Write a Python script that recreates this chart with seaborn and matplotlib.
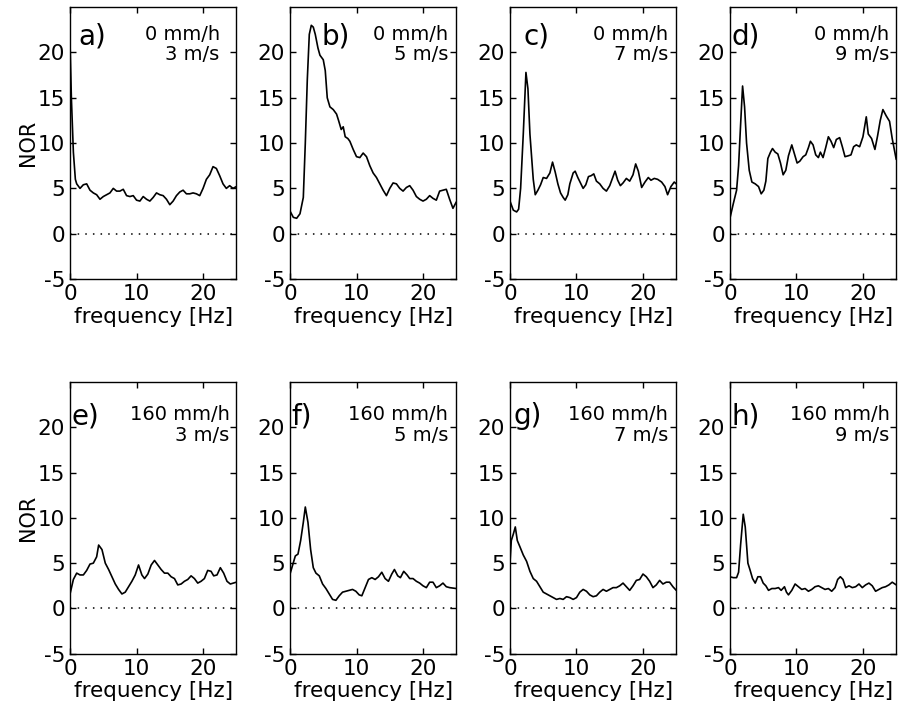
import numpy as np
import pandas as pd
import matplotlib
matplotlib.use("Agg")
import matplotlib.pyplot as plt
import seaborn as sns

# panel labels and conditions
letters = ["a)", "b)", "c)", "d)", "e)", "f)", "g)", "h)"]
rain = ["0 mm/h"] * 4 + ["160 mm/h"] * 4
wind = ["3 m/s", "5 m/s", "7 m/s", "9 m/s"] * 2

# NOR spectra (frequency [Hz], NOR)
fa = [0, 0.2, 0.5, 0.8, 1.0, 1.5, 2.0, 2.5, 3, 3.5, 4, 4.5, 5, 5.5, 6, 6.5, 7, 7.5, 8, 8.5,
      9, 9.5, 10, 10.5, 11, 11.5, 12, 12.5, 13, 13.5, 14, 14.5, 15, 15.5, 16, 16.5, 17, 17.5,
      18, 18.5, 19, 19.5, 20, 20.5, 21, 21.5, 22, 22.5, 23, 23.5, 24, 24.5, 25]
na = [21, 15, 9, 6, 5.5, 5.0, 5.4, 5.5, 4.8, 4.5, 4.3, 3.8, 4.1, 4.3, 4.5, 5.0, 4.7, 4.7, 4.9, 4.2,
      4.1, 4.2, 3.7, 3.6, 4.1, 3.8, 3.6, 4.0, 4.5, 4.3, 4.2, 3.8, 3.2, 3.6, 4.2, 4.6, 4.8, 4.4,
      4.4, 4.5, 4.4, 4.2, 5.0, 6.0, 6.5, 7.4, 7.2, 6.4, 5.5, 5.0, 5.3, 5.0, 5.2]

fb = [0, 0.5, 1, 1.5, 2, 2.3, 2.6, 2.9, 3.2, 3.5, 3.8, 4.2, 4.5, 5, 5.3, 5.6, 6, 6.5, 7, 7.3,
      7.7, 8, 8.3, 8.7, 9, 9.5, 10, 10.5, 11, 11.5, 12, 12.5, 13, 13.5, 14, 14.5, 15, 15.5, 16,
      16.5, 17, 17.5, 18, 18.5, 19, 19.5, 20, 20.5, 21, 21.5, 22, 22.5, 23, 23.5, 24, 24.5, 25]
nb = [2.5, 1.8, 1.7, 2.2, 4, 10, 17, 22, 23, 22.8, 22, 20.5, 19.7, 19.2, 18, 15, 14, 13.7, 13.2, 12.5,
      11.5, 11.8, 10.7, 10.5, 10.2, 9.3, 8.5, 8.4, 8.9, 8.5, 7.5, 6.7, 6.2, 5.5, 4.8, 4.2, 5.0, 5.6, 5.5,
      5.0, 4.7, 5.1, 5.3, 4.8, 4.1, 3.8, 3.6, 3.8, 4.2, 3.9, 3.7, 4.7, 4.8, 4.9, 3.8, 2.8, 3.5]

fc = [0, 0.5, 1, 1.3, 1.6, 2, 2.4, 2.7, 3, 3.5, 3.8, 4.2, 4.6, 5, 5.5, 6, 6.4, 6.8, 7.2, 7.6,
      8, 8.3, 8.7, 9, 9.5, 9.8, 10.2, 10.6, 11, 11.4, 11.8, 12.2, 12.6, 13, 13.5, 14, 14.5, 15,
      15.5, 15.8, 16.2, 16.6, 17, 17.5, 18, 18.5, 18.9, 19.3, 19.8, 20.3, 20.8, 21.2, 21.7, 22.2,
      22.8, 23.3, 23.7, 24.2, 24.7, 25]
nc = [3.6, 2.6, 2.4, 2.7, 5, 11, 17.8, 16, 11, 6, 4.3, 4.8, 5.4, 6.2, 6.1, 6.7, 7.9, 6.8, 5.5, 4.5,
      4.0, 3.7, 4.3, 5.5, 6.7, 6.9, 6.2, 5.6, 5.0, 5.4, 6.3, 6.4, 6.6, 5.8, 5.5, 5.0, 4.7, 5.3,
      6.3, 6.9, 5.9, 5.3, 5.6, 6.1, 5.8, 6.5, 7.7, 6.9, 5.1, 5.7, 6.2, 5.9, 6.1, 6.0,
      5.7, 5.2, 4.3, 5.2, 5.7, 5.5]

fd = [0, 0.5, 1, 1.3, 1.6, 1.9, 2.2, 2.5, 2.9, 3.3, 3.8, 4.3, 4.7, 5.1, 5.4, 5.7, 6.1, 6.4, 6.8,
      7.2, 7.6, 8.0, 8.4, 8.8, 9.3, 9.7, 10.1, 10.5, 11, 11.4, 11.8, 12.1, 12.5, 12.9, 13.3, 13.6,
      14, 14.4, 14.8, 15.2, 15.6, 16, 16.5, 16.9, 17.3, 17.8, 18.2, 18.6, 19, 19.5, 20, 20.5,
      20.8, 21.3, 21.8, 22.2, 22.6, 23, 23.5, 24, 24.4, 25]
nd = [1.7, 3.3, 4.8, 7.5, 12, 16.3, 14, 10, 7, 5.7, 5.5, 5.2, 4.4, 4.8, 5.8, 8.3, 9.0, 9.4, 9.0,
      8.8, 7.8, 6.5, 7.0, 8.6, 9.8, 8.8, 7.8, 8.0, 8.5, 8.7, 9.5, 10.2, 9.8, 8.7, 8.4, 9.0,
      8.4, 9.5, 10.7, 10.2, 9.5, 10.4, 10.6, 9.6, 8.5, 8.6, 8.7, 9.6, 9.8, 9.6, 10.7, 12.9,
      11.0, 10.5, 9.3, 10.8, 12.5, 13.7, 13.0, 12.4, 10.5, 8.2]

fe = [0, 0.5, 1, 1.5, 2, 2.5, 3, 3.5, 4, 4.3, 4.8, 5.3, 5.8, 6.3, 6.8, 7.3, 7.8, 8.3, 8.8, 9.3,
      9.8, 10.3, 10.8, 11.2, 11.7, 12.2, 12.7, 13.2, 13.7, 14.2, 14.7, 15.2, 15.7, 16.2, 16.7,
      17.2, 17.7, 18.2, 18.7, 19.2, 19.7, 20.2, 20.7, 21.2, 21.6, 22.1, 22.6, 23.1, 23.6, 24.1, 25]
ne = [1.6, 3.2, 3.9, 3.7, 3.7, 4.2, 4.9, 5.0, 5.7, 7.0, 6.5, 5.0, 4.3, 3.5, 2.7, 2.1, 1.6, 1.8, 2.4, 3.0,
      3.7, 4.8, 3.7, 3.3, 3.8, 4.8, 5.3, 4.8, 4.3, 3.9, 3.9, 3.5, 3.3, 2.6, 2.7,
      3.0, 3.2, 3.6, 3.3, 2.8, 3.0, 3.3, 4.2, 4.1, 3.6, 3.7, 4.5, 3.9, 3.0, 2.7, 2.9]

ff = [0, 0.4, 0.8, 1.2, 1.6, 2.0, 2.3, 2.7, 3.1, 3.5, 3.9, 4.4, 4.9, 5.4, 5.9, 6.4, 6.9, 7.4, 7.9,
      8.4, 8.9, 9.4, 9.9, 10.4, 10.8, 11.3, 11.8, 12.3, 12.8, 13.3, 13.8, 14.3, 14.8, 15.3, 15.7,
      16.2, 16.6, 17.1, 17.6, 18.0, 18.5, 19, 19.5, 20, 20.5, 21, 21.5, 22, 22.5, 23, 23.5, 24, 25]
nf = [3.8, 4.8, 5.8, 6.0, 7.5, 9.5, 11.2, 9.5, 6.5, 4.5, 3.9, 3.6, 2.7, 2.2, 1.6, 1.0, 0.9, 1.4, 1.8,
      1.9, 2.0, 2.1, 1.9, 1.5, 1.4, 2.3, 3.2, 3.4, 3.2, 3.5, 4.0, 3.3, 3.0, 3.8, 4.3,
      3.6, 3.4, 4.1, 3.7, 3.3, 3.3, 3.0, 2.8, 2.5, 2.3, 2.9, 2.9, 2.3, 2.5, 2.8, 2.4, 2.3, 2.2]

fg = [0, 0.2, 0.5, 0.8, 1.1, 1.5, 2, 2.5, 3, 3.5, 4, 4.5, 5, 5.5, 6, 6.5, 7, 7.5, 8, 8.5, 9, 9.5,
      10, 10.5, 11, 11.5, 12, 12.5, 13, 13.5, 14, 14.5, 15, 15.5, 16, 16.5, 17, 17.5, 18, 18.5,
      19, 19.5, 20, 20.5, 21, 21.5, 22, 22.5, 23, 23.5, 24, 24.5, 25]
ng = [5.0, 7.5, 8.2, 9.0, 7.5, 6.8, 5.9, 5.2, 4.1, 3.3, 3.0, 2.4, 1.8, 1.6, 1.4, 1.2, 1.0, 1.1, 1.0, 1.3, 1.2, 1.0,
      1.2, 1.8, 2.1, 1.9, 1.5, 1.3, 1.4, 1.8, 2.1, 1.9, 2.1, 2.3, 2.3, 2.5, 2.8, 2.4, 2.0, 2.5,
      3.1, 3.2, 3.8, 3.5, 3.0, 2.3, 2.6, 3.1, 2.7, 2.9, 2.9, 2.4, 2.0]

fh = [0, 0.5, 1, 1.3, 1.6, 2.0, 2.3, 2.7, 3, 3.4, 3.8, 4.2, 4.6, 5, 5.4, 5.8, 6.3, 6.8, 7.3, 7.7,
      8.2, 8.5, 8.8, 9.3, 9.8, 10.3, 10.8, 11.3, 11.8, 12.3, 12.8, 13.3, 13.8, 14.3, 14.8, 15.3,
      15.8, 16.2, 16.6, 17.0, 17.4, 17.9, 18.4, 18.9, 19.4, 19.9, 20.4, 20.9, 21.4, 21.9, 22.4,
      22.9, 23.4, 23.9, 24.4, 25]
nh = [3.5, 3.4, 3.4, 4.0, 7, 10.4, 9, 5, 4.3, 3.3, 2.8, 3.5, 3.5, 2.8, 2.5, 2.0, 2.2, 2.2, 2.3, 2.0,
      2.4, 1.8, 1.5, 2.0, 2.7, 2.4, 2.1, 2.2, 1.9, 2.1, 2.4, 2.5, 2.3, 2.1, 2.2, 1.9,
      2.3, 3.2, 3.5, 3.2, 2.3, 2.5, 2.3, 2.4, 2.7, 2.3, 2.6, 2.8, 2.5, 1.9, 2.1,
      2.3, 2.4, 2.6, 2.9, 2.6]

freqs = [fa, fb, fc, fd, fe, ff, fg, fh]
nors = [na, nb, nc, nd, ne, nf, ng, nh]

frames = []
for lab, f, n in zip(letters, freqs, nors):
    frames.append(pd.DataFrame({"panel": lab, "frequency": f, "NOR": n}))
df = pd.concat(frames, ignore_index=True)

sns.set_style("ticks")
plt.rcParams["font.family"] = ["DejaVu Sans"]
plt.rcParams["xtick.direction"] = "in"
plt.rcParams["ytick.direction"] = "in"
plt.rcParams["axes.unicode_minus"] = False
plt.rcParams["text.color"] = "black"
plt.rcParams["axes.labelcolor"] = "black"
plt.rcParams["xtick.color"] = "black"
plt.rcParams["ytick.color"] = "black"

fig, axes = plt.subplots(2, 4, figsize=(8.98, 7.2), dpi=100)
fig.subplots_adjust(left=0.078, right=0.998, top=0.990, bottom=0.092,
                    wspace=0.323, hspace=0.379)

# where the panel letter and the condition text sit (axes fraction)
letter_x = [0.05, 0.19, 0.08, 0.01, 0.01, 0.01, 0.02, 0.01]
cond_x = [0.90, 0.95, 0.95, 0.96, 0.96, 0.95, 0.95, 0.96]

for i, ax in enumerate(axes.flat):
    sub = df[df["panel"] == letters[i]]
    sns.lineplot(data=sub, x="frequency", y="NOR", ax=ax, color="black",
                 linewidth=1.2, estimator=None, sort=False)
    ax.axhline(0, color="black", linestyle=(0, (1, 4)), linewidth=1.1)
    ax.set_xlim(0, 25)
    ax.set_ylim(-5, 25)
    ax.set_xticks([0, 10, 20])
    ax.set_yticks([-5, 0, 5, 10, 15, 20])
    ax.tick_params(axis="both", which="both", top=True, right=True,
                   labelsize=15.5, length=4, width=1, colors="black")
    for s in ax.spines.values():
        s.set_linewidth(1.0)
        s.set_color("black")
    ax.set_xlabel("frequency [Hz]", fontsize=15.5, labelpad=2)
    if i % 4 == 0:
        ax.set_ylabel("NOR", fontsize=15, labelpad=0)
    else:
        ax.set_ylabel("")
    top = 0.935 if i < 4 else 0.915
    ax.text(letter_x[i], top + 0.01, letters[i], transform=ax.transAxes,
            fontsize=20, ha="left", va="top")
    ax.text(cond_x[i], top, rain[i] + "\n" + wind[i], transform=ax.transAxes,
            fontsize=14, ha="right", va="top", linespacing=1.1)

fig.savefig("out.png", dpi=100)
plt.close(fig)
